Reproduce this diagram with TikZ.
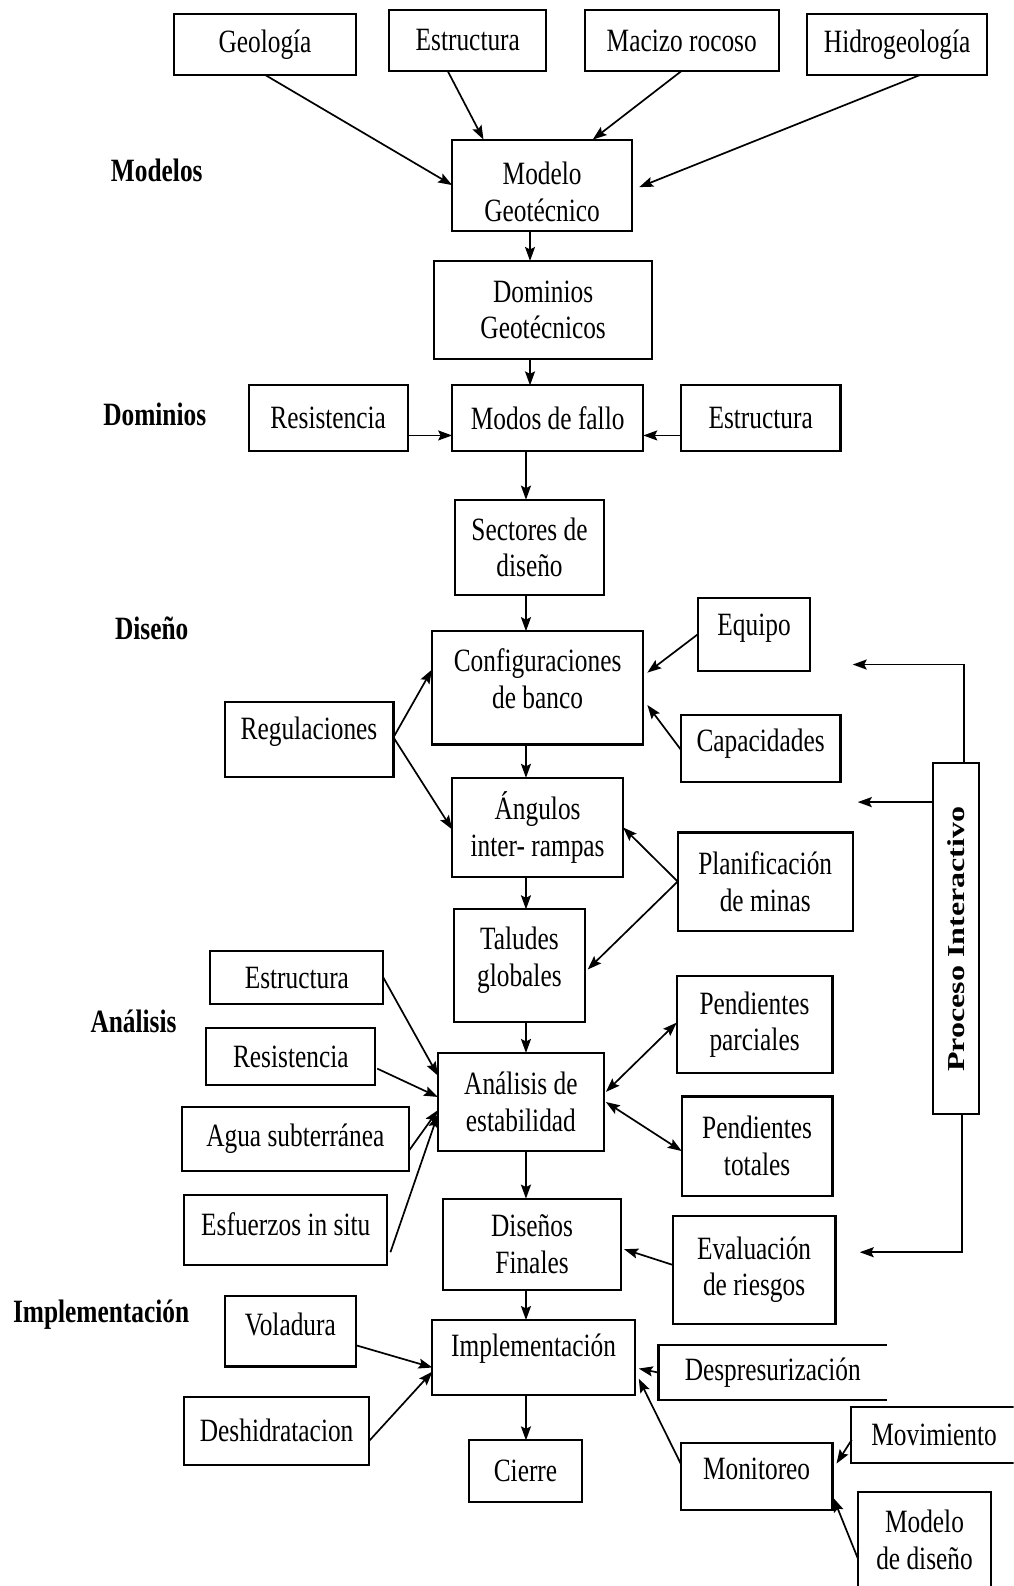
\documentclass[tikz,border=0pt]{standalone}
\usepackage{graphicx}
\usepackage{fontspec}
\setmainfont{Liberation Serif}[FakeStretch=0.78]
\newfontfamily\vertfont{Liberation Serif}
\usetikzlibrary{arrows.meta,calc}

\begin{document}
\begin{tikzpicture}[x=1.011pt,y=-1.011pt,
  every node/.style={font=\fontsize{32.5}{36.5}\selectfont, inner sep=0pt, outer sep=0pt},
  box/.style={draw, line width=2.1pt, align=center},
  sz/.style 2 args={minimum width=#1*1.011pt, minimum height=#2*1.011pt},
  txt/.style={align=center},
  lbl/.style={font=\fontsize{32.5}{36.5}\selectfont\bfseries},
  tip/.tip={Stealth[length=14pt,width=10pt,inset=2.5pt]},
  arr/.style={line width=1.7pt, -tip},
  dbl/.style={line width=1.7pt, tip-tip}]

\useasboundingbox (0,0) rectangle (1002,1568);
\clip (0,0) rectangle (1002,1568);
\fill[white] (0,0) rectangle (1002,1568);

% stage labels
\node[lbl] (lmod) at (155,168) {Modelos};
\node[lbl] (ldom) at (153,410) {Dominios};
\node[lbl] (ldis) at (150,621) {Diseño};
\node[lbl] (lana) at (132,1010) {Análisis};
\node[lbl] (limp) at (100,1300) {Implementación};

% inputs of the geotechnical model
\node[box,sz={180}{60}] (geo) at (262,44) {Geología};
\node[box,sz={155}{60}] (est1) at (462.5,40) {Estructura};
\node[box,sz={192}{60}] (mac) at (674,40) {Macizo rocoso};
\node[box,sz={178}{60}] (hid) at (887,44) {Hidrogeología};

% main chain
\node[box,sz={178}{90}] (mg) at (536,183) {};
\node[txt] (mgt) at (536,189.5) {Modelo\\Geotécnico};
\node[box,sz={216}{97}] (dg) at (537,306.5) {Dominios\\Geotécnicos};
\node[box,sz={157}{65}] (res1) at (324.5,413.5) {Resistencia};
\node[box,sz={189}{65}] (mf) at (541.5,413.5) {Modos de fallo};
\node[box,sz={158}{65}] (est2) at (752,413.5) {Estructura};
\node[box,sz={147}{94}] (sd) at (523.5,541) {Sectores de\\diseño};

\node[box,sz={209}{112}] (cb) at (531.5,680) {};
\node[txt] (cbt) at (531.5,671) {Configuraciones\\de banco};
\node[box,sz={111}{72}] (eq) at (745.5,627) {};
\node[txt] (eqt) at (745.5,621) {Equipo};
\node[box,sz={167}{74}] (reg) at (305.5,731) {};
\node[txt] (regt) at (305.5,723) {Regulaciones};
\node[box,sz={158}{66}] (cap) at (752,740) {};
\node[txt] (capt) at (752,735) {Capacidades};

\node[box,sz={169}{98}] (ang) at (531.5,818) {Ángulos\\inter- rampas};
\node[box,sz={173}{97}] (pl) at (756.5,871.5) {Planificación\\de minas};
\node[box,sz={129}{111}] (tal) at (513.5,954.5) {};
\node[txt] (talt) at (513.5,949.5) {Taludes\\globales};

\node[box,sz={171}{53}] (est3) at (293.5,966.5) {Estructura};
\node[box,sz={167}{57}] (res3) at (287.5,1044.5) {Resistencia};
\node[box,sz={224}{64}] (agua) at (292,1126) {Agua subterránea};
\node[box,sz={201}{70}] (esf) at (282.5,1216) {};
\node[txt] (esft) at (282.5,1210) {Esfuerzos in situ};

\node[box,sz={164}{97}] (ae) at (515,1089.5) {Análisis de\\estabilidad};
\node[box,sz={154}{96}] (pp) at (746,1013) {Pendientes\\parciales};
\node[box,sz={149}{98}] (pt) at (748.5,1133) {Pendientes\\totales};

\node[box,sz={176}{90}] (df) at (526,1230) {Diseños\\Finales};
\node[box,sz={161}{107}] (ev) at (745.5,1255.5) {Evaluación\\de riesgos};

\node[box,sz={130}{70}] (vol) at (287,1316) {};
\node[txt] (volt) at (287,1309) {Voladura};
\node[box,sz={200}{74}] (imp) at (527.5,1342) {};
\node[txt] (impt) at (527.5,1333) {Implementación};
\node[box,sz={183}{67}] (desh) at (273.5,1414.5) {Deshidratacion};
\node[box,sz={111}{61}] (ci) at (519.5,1454.5) {Cierre};

% open-ended box on the right
\node[sz={226}{54}] (desp) at (764,1357) {Despresurización};
\draw[line width=2.1pt] (desp.north east) -- (desp.north west) -- (desp.south west) -- (desp.south east);

\node[box,sz={150}{66}] (mon) at (748,1460) {};
\node[txt] (mont) at (748,1452) {Monitoreo};
\node[box,sz={165}{55}] (mov) at (923.5,1418.5) {Movimiento};
\node[box,sz={132}{95}] (mod) at (914,1522.5) {Modelo\\de diseño};

% iterative process bar
\node[box,sz={46}{347}] (pi) at (945,927.5) {};
\node[rotate=90, font=\vertfont\fontsize{32}{36}\selectfont\bfseries] (pit) at (945,928.5)
  {\scalebox{1}[0.76]{Proceso Interactivo}};

% spine abscissae
\coordinate (s1) at (524,0);
\coordinate (s2) at (520,0);

% connectors: model inputs
\draw[arr] (geo.south) -- (mg.west);
\draw[arr] ($(est1.south)+(-20,0)$) -- ($(mg.north)+(-58,0)$);
\draw[arr] (mac.south) -- ($(mg.north)+(50,0)$);
\draw[arr] ($(hid.south)+(23,0)$) -- ($(mg.east)+(7,2)$);

% main chain
\draw[arr] (mg.south -| s1) -- (dg.north -| s1);
\draw[arr] (dg.south -| s1) -- (mf.north -| s1);
\draw[arr] ($(res1.east)+(0,17)$) -- ($(mf.west)+(0,17)$);
\draw[arr] ($(est2.west)+(0,17)$) -- ($(mf.east)+(0,17)$);
\draw[arr] (mf.south -| s2) -- (sd.north -| s2);
\draw[arr] (sd.south -| s2) -- (cb.north -| s2);

% design
\draw[arr] (eq.west) -- ($(cb.east)+(4,-15)$);
\draw[arr] ($(cap.west)+(0,1)$) -- ($(cb.east)+(4,17)$);
\draw[arr] ($(reg.east)+(0,-2)$) -- ($(cb.west)+(0,-18)$);
\draw[arr] ($(reg.east)+(0,-2)$) -- ($(ang.west)+(0,2)$);
\draw[arr] (cb.south -| s2) -- (ang.north -| s2);
\draw[arr] (pl.west) -- (ang.east);
\draw[arr] (pl.west) -- ($(tal.east)+(3,4)$);
\draw[arr] (ang.south -| s2) -- (tal.north -| s2);
\draw[arr] (tal.south -| s2) -- (ae.north -| s2);

% analysis
\draw[arr] (est3.east) -- ($(ae.west)+(0,-26)$);
\draw[arr] ($(res3.east)+(2,12)$) -- ($(ae.west)+(0,-5)$);
\draw[arr] ($(agua.east)+(0,12)$) -- ($(ae.west)+(0,8)$);
\draw[arr] ($(esf.east)+(3,22)$) -- ($(ae.west)+(0,12)$);
\draw[dbl] ($(ae.east)+(2,-10)$) -- ($(pp.west)+(0,-2)$);
\draw[dbl] ($(ae.east)+(2,0)$) -- ($(pt.west)+(0,5)$);
\draw[arr] (ae.south -| s2) -- (df.north -| s2);
\draw[arr] ($(ev.west)+(0,-5)$) -- ($(df.east)+(3,5)$);

% implementation
\draw[arr] (df.south -| s2) -- (imp.north -| s2);
\draw[arr] ($(vol.east)+(0,14)$) -- ($(imp.west)+(0,10)$);
\draw[arr] ($(desh.east)+(0,10)$) -- ($(imp.west)+(0,14)$);
\draw[arr] (desp.west) -- ($(imp.east)+(4,11)$);
\draw[arr] ($(mon.west)+(0,-13)$) -- ($(imp.east)+(4,21)$);
\draw[arr] (imp.south -| s2) -- (ci.north -| s2);
\draw[arr] ($(mov.west)+(1,5)$) -- ($(mon.east)+(4,-13)$);
\draw[arr] ($(mod.west)+(0,18)$) -- ($(mon.east)+(1,21)$);

% feedback of the iterative process
\coordinate (pa) at (843,657);
\coordinate (pb) at (848,793);
\coordinate (pc) at (850,1238);
\draw[arr] ($(pi.north)+(8,0)$) |- (pa);
\draw[arr] (pi.west |- pb) -- (pb);
\draw[arr] ($(pi.south)+(6,0)$) |- (pc);

\end{tikzpicture}
\end{document}
